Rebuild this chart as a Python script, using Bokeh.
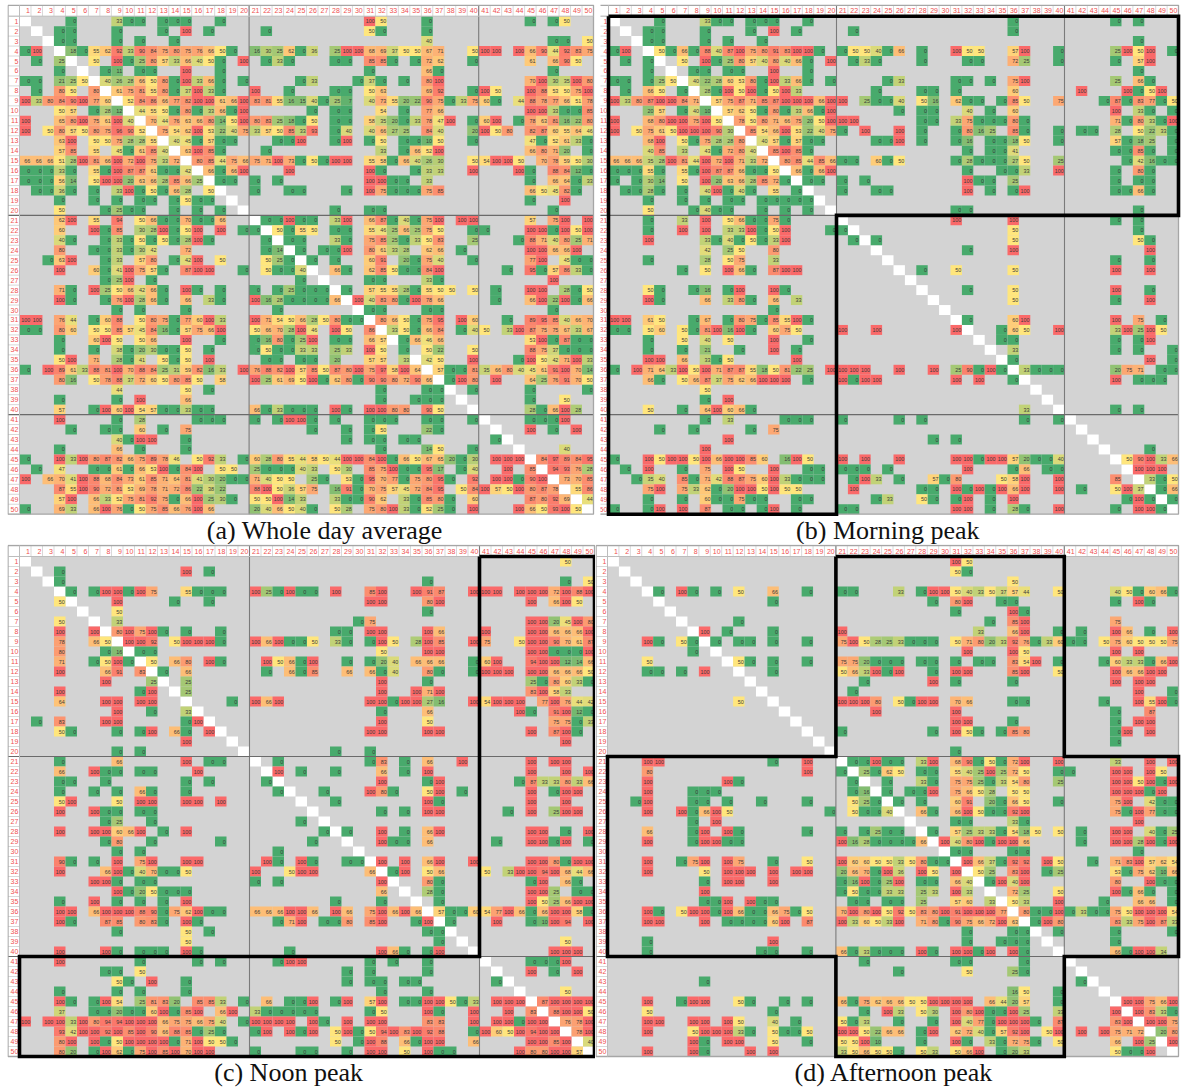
from bokeh.plotting import figure
from bokeh.layouts import column, row
from bokeh.models import Range1d, ColumnDataSource
from bokeh.core.properties import value
from bokeh.embed import file_html
from bokeh.resources import INLINE

tick_labels = [str(i) for i in range(1, 51)]
captions = ["(a) Whole day average", "(b) Morning peak", "(c) Noon peak", "(d) Afternoon peak"]

whole_day = [
{5:0,9:33,10:0,11:0,13:0,14:0,15:0,18:0,31:100,32:50,36:0,45:0,47:0,48:50},
{4:0,5:0,9:0,13:0,15:100,17:0,22:0,31:50,32:0,36:0},
{4:0,5:0,9:0,11:0,14:0,36:40,47:0,48:0,50:50},
{1:0,2:100,5:18,6:0,7:55,8:62,9:92,10:33,11:90,12:84,13:75,14:80,15:75,16:76,17:66,18:50,19:0,21:16,22:30,23:25,24:62,25:0,26:36,28:25,29:100,30:100,31:68,32:69,33:37,34:50,35:50,36:67,37:71,40:50,41:100,42:100,44:100,45:66,46:90,47:44,48:92,49:83,50:75},
{2:0,4:25,7:50,9:100,10:0,11:25,12:80,13:57,14:33,15:66,16:40,17:50,18:0,20:100,22:0,23:33,24:0,28:0,29:0,31:85,32:85,33:0,35:0,36:72,37:62,40:0,45:61,47:66,48:90,49:50},
{4:0,8:0,9:11,11:0,12:0,15:100,18:0,31:0,36:66,37:0,47:0},
{1:0,2:0,4:21,5:25,6:50,8:40,9:26,10:28,11:66,12:50,13:80,14:0,15:100,16:33,17:66,18:0,20:0,25:0,26:33,30:0,31:37,32:0,34:0,36:80,37:100,45:70,46:100,47:30,48:35,49:100,50:80},
{2:0,4:80,5:50,7:80,9:61,10:75,11:81,12:55,13:80,14:0,15:37,16:100,17:33,18:0,21:100,24:0,28:0,29:0,31:50,32:63,36:69,37:92,40:0,41:100,42:50,45:100,46:88,47:53,48:50,49:75,50:100},
{1:100,2:33,3:80,4:84,5:90,6:100,7:77,8:60,10:52,11:84,12:86,13:66,14:77,15:82,16:100,17:100,18:61,19:66,20:100,21:83,22:81,23:55,24:16,25:15,26:40,27:0,28:25,29:7,31:40,32:73,33:55,34:20,35:22,36:90,37:75,38:0,39:33,40:75,41:60,42:0,44:44,45:88,46:78,47:77,48:66,49:51,50:78},
{4:50,5:57,7:0,8:28,9:12,11:44,12:55,13:50,14:0,15:80,16:0,17:33,18:66,19:0,20:100,26:0,28:0,29:0,32:54,34:0,36:77,37:66,45:100,46:100,47:33,48:0,49:0,50:85},
{1:100,4:65,5:80,6:100,7:75,8:61,9:100,10:40,12:70,13:44,14:76,15:63,16:66,17:80,18:14,19:50,20:100,21:80,22:83,23:25,24:18,25:0,26:50,28:0,29:0,31:58,32:35,33:20,34:0,35:33,36:78,37:47,38:100,40:0,41:60,42:100,44:0,45:78,46:63,47:81,48:16,49:22,50:80},
{1:100,3:50,4:80,5:57,6:50,7:80,8:75,9:96,10:90,11:52,13:75,14:54,15:62,16:100,17:53,18:22,19:40,20:75,21:33,22:57,23:50,24:85,25:33,26:93,28:0,29:40,31:40,32:66,33:27,34:25,36:84,37:40,40:20,41:100,42:50,43:80,45:82,46:87,47:60,48:55,49:64,50:46},
{4:63,5:100,7:50,8:50,9:75,10:28,11:28,12:55,14:40,15:45,16:0,17:57,18:0,19:0,23:0,24:0,25:100,28:0,29:100,31:0,32:50,34:0,35:0,36:10,37:50,40:0,45:47,46:0,47:52,48:61,49:33,50:0},
{4:57,5:85,7:55,9:45,10:0,11:61,12:85,13:40,15:63,16:100,17:85,18:0,22:0,32:33,34:0,35:66,36:52,37:100,45:66,46:80,47:71,48:20,50:0},
{1:66,2:66,3:66,4:51,5:28,6:100,7:81,8:66,9:100,10:72,11:100,12:75,13:33,14:72,16:80,17:85,18:44,19:75,20:66,21:75,22:71,23:100,24:73,25:0,26:50,27:0,28:100,29:100,31:55,32:58,33:0,34:66,35:40,36:26,37:30,40:50,41:54,42:100,43:100,44:50,46:70,47:78,48:59,49:50,50:30},
{1:0,2:0,3:0,4:33,5:0,7:55,8:0,9:100,10:87,11:87,12:61,13:0,14:0,15:42,17:66,18:0,19:66,20:100,24:100,31:100,32:0,35:0,36:33,37:33,40:100,44:100,45:0,47:88,48:84,49:12,50:0},
{1:0,2:0,3:0,4:56,5:14,7:50,8:100,9:100,10:20,11:63,12:66,13:28,14:85,15:66,16:25,18:0,19:0,21:0,23:0,31:100,32:100,33:0,34:0,36:33,45:0,47:66,48:64,49:0,50:33},
{2:0,3:0,4:36,5:0,7:0,9:33,10:100,11:0,12:50,13:0,14:66,15:28,17:50,21:0,24:0,25:0,29:0,31:100,32:75,33:0,34:0,35:0,36:75,37:85,45:66,46:50,47:45,48:82,49:0},
{4:0,7:0,9:0,11:0,12:0,14:0,15:50,16:0,17:0,45:0,48:100},
{4:50,8:0,9:25,10:0,11:0,14:0,16:0,18:0,28:0,31:0,32:0,47:0},
{4:62,5:100,7:55,9:94,11:50,12:66,13:0,14:0,15:70,16:0,17:0,18:66,22:0,23:0,24:100,25:0,26:0,28:33,29:100,31:66,32:87,33:0,34:40,35:0,36:75,37:100,39:100,40:100,45:57,47:75,48:100,50:100},
{4:60,7:100,8:0,9:85,11:30,12:28,13:100,14:0,15:50,16:100,18:100,20:0,21:0,23:50,24:0,25:55,26:50,28:0,29:0,31:55,32:46,33:25,34:66,35:25,36:75,37:50,40:0,41:0,45:100,46:100,47:0,48:100,49:50,50:100},
{4:40,5:0,8:0,9:33,10:0,11:50,12:0,13:50,14:0,15:28,16:100,17:0,22:0,24:0,25:0,28:33,29:0,31:75,32:85,33:25,34:0,35:33,36:50,37:83,40:25,44:0,45:88,46:71,47:40,48:80,49:25,50:71},
{4:80,7:0,8:0,9:33,10:0,11:30,12:42,15:72,22:0,23:14,25:0,27:0,28:0,29:100,31:80,32:61,33:33,34:28,36:62,37:66,39:0,45:100,46:100,47:66,48:66,49:100},
{3:0,4:63,5:100,8:0,9:33,11:57,12:80,14:0,15:42,16:100,18:50,22:50,23:25,24:0,26:0,28:0,31:60,32:91,34:20,35:0,36:75,37:40,40:0,45:77,46:100,48:45,49:0,50:0},
{4:100,7:60,8:0,9:41,10:100,11:75,12:57,13:0,15:87,16:100,17:100,20:0,22:50,23:0,24:0,25:40,28:66,29:0,31:62,32:85,33:50,34:0,35:0,36:84,37:100,43:0,45:95,46:0,47:57,48:86,49:33,50:0},
{8:0,9:25,10:100,12:0,25:0,31:0,32:0,36:33,37:0,47:100},
{4:71,5:0,7:100,8:25,9:50,10:66,11:42,12:66,13:0,15:100,16:0,18:0,21:0,23:0,24:25,25:0,26:0,27:0,29:0,31:57,32:55,33:55,34:28,35:0,36:55,37:50,38:50,40:50,42:0,45:100,46:100,48:28,49:0,50:50},
{4:100,5:0,8:0,9:76,10:100,11:28,12:66,13:0,15:66,17:33,18:0,21:100,22:16,23:28,24:0,25:0,26:0,27:0,28:66,30:100,31:40,32:83,33:80,34:0,35:100,36:78,37:66,42:0,45:66,46:100,47:22,48:100,49:0,50:66},
{9:0,11:0,15:0,23:0,31:0,32:0,36:0,37:0,47:0},
{1:100,2:100,4:76,5:44,7:0,8:60,9:88,11:50,12:80,13:75,14:0,15:77,16:60,17:100,18:33,21:100,22:71,23:54,24:50,25:66,26:28,27:50,28:80,29:0,30:0,32:80,33:66,34:50,35:0,36:75,37:95,39:100,40:60,43:0,45:89,46:95,47:85,48:40,49:66,50:70},
{1:0,2:0,4:80,5:60,7:50,8:50,9:85,10:57,11:45,12:84,13:16,14:0,15:57,16:75,17:66,18:100,21:50,22:66,23:70,24:28,25:100,26:46,28:100,29:50,31:86,33:33,34:50,35:0,36:66,37:84,39:0,40:40,41:50,43:33,44:100,45:87,46:75,47:75,48:67,49:33,50:67},
{4:0,7:60,8:100,9:50,11:50,12:66,15:100,18:0,21:0,22:16,23:80,24:0,25:25,26:100,28:0,29:0,31:66,32:57,34:0,35:66,36:46,37:66,45:53,46:100,47:0,48:87,49:0,50:0},
{4:0,7:0,9:38,10:0,11:20,12:30,13:0,14:0,15:50,17:0,21:0,22:50,23:0,24:0,25:33,26:33,28:25,29:33,31:100,32:50,34:0,36:50,37:22,40:50,45:88,46:75,47:37,48:0,49:0,50:0},
{4:50,5:100,7:71,9:28,10:0,11:41,13:50,14:0,15:50,17:100,22:0,23:0,25:0,26:0,28:20,31:57,32:57,34:33,36:42,37:50,40:100,44:0,45:100,46:50,47:42,48:71,49:100,50:33},
{1:0,3:100,4:89,5:61,6:33,7:88,8:81,9:100,10:70,11:88,12:84,13:25,14:31,15:59,16:82,17:16,18:33,20:100,21:76,22:88,23:82,24:100,25:57,26:85,27:50,28:87,29:80,30:100,31:75,32:97,33:58,34:100,35:64,37:57,38:0,39:0,40:81,41:35,42:66,43:80,44:40,45:45,46:61,47:91,48:100,49:70,50:14},
{4:80,5:16,7:50,8:78,9:88,10:37,11:72,12:60,13:50,14:80,15:85,16:50,18:58,21:100,22:25,23:61,24:69,25:50,26:100,27:0,28:62,29:80,30:0,31:90,32:90,33:80,34:72,35:90,36:66,38:0,39:100,40:80,42:100,45:64,46:25,47:76,48:91,49:70,50:50},
{9:44,15:50,17:0,32:0,36:0,37:0,40:0,45:0,50:0},
{4:0,9:0,11:100,15:66,32:0,35:0,36:0,37:0,45:0,48:50},
{4:57,7:0,8:100,9:60,10:100,11:54,12:57,13:0,14:0,15:33,16:0,17:0,21:66,22:0,23:33,24:0,25:0,26:0,28:100,29:0,31:100,32:100,33:80,34:80,36:90,37:50,45:28,46:0,47:66,48:100,49:28},
{4:100,9:0,11:28,16:0,17:0,18:0,21:0,23:0,24:100,25:100,26:0,28:0,31:0,32:0,33:0,36:0,37:0,40:0,45:0,46:0,47:0,48:100},
{5:0,8:0,9:0,11:60,13:0,15:75,26:0,29:0,31:0,32:50,36:22,37:0,45:100,47:0,49:100},
{9:40,10:0,11:100,12:100,15:0,29:0,31:0,32:0,34:0,35:0,42:0},
{4:0,9:66,11:0,15:0,32:0,36:14,37:50,40:0,48:40},
{1:0,4:100,5:33,6:100,7:80,8:87,9:82,10:66,11:75,12:89,13:78,14:46,16:50,17:92,18:33,20:0,21:60,22:28,23:80,24:55,25:44,26:58,27:50,28:44,29:100,30:100,31:84,32:100,33:0,34:66,35:50,36:67,37:65,38:20,39:0,40:30,42:100,43:100,44:100,46:84,47:97,48:89,49:84,50:95},
{2:0,4:47,7:0,8:0,9:61,10:0,11:66,12:53,13:100,14:0,15:84,16:100,18:50,19:50,21:25,22:0,23:0,24:0,25:40,26:33,28:50,29:30,31:85,32:75,33:100,34:0,35:0,36:95,37:17,39:0,40:40,43:100,45:85,47:94,48:93,49:76,50:28},
{1:100,3:66,4:70,5:41,6:100,7:88,8:68,9:84,10:73,11:61,12:85,13:71,14:64,15:81,16:41,17:30,18:20,19:0,20:0,21:71,22:40,23:50,24:50,26:25,27:0,29:53,30:0,31:95,32:70,33:77,34:0,35:75,36:80,37:95,38:0,40:92,42:100,43:100,44:0,45:90,46:100,48:73,49:70,50:85},
{4:87,5:55,6:100,7:90,8:72,9:81,10:53,11:69,12:78,13:71,14:72,15:86,16:22,17:38,18:22,21:88,22:100,23:50,24:36,25:57,26:75,28:16,29:91,30:0,31:70,32:75,33:57,34:45,35:72,36:84,37:95,39:50,40:84,41:100,42:57,43:50,44:100,45:80,46:87,47:78,49:55,50:86},
{4:57,5:100,7:66,8:33,9:52,10:75,11:81,12:92,13:75,14:0,15:66,16:100,17:25,18:30,19:0,21:50,22:50,23:100,24:14,25:33,28:33,29:0,30:0,31:90,32:62,34:33,35:0,36:85,37:80,38:0,40:60,45:87,46:80,47:92,48:69,50:44},
{1:0,4:69,5:33,7:66,8:100,9:76,10:0,11:50,12:75,13:85,14:66,15:76,16:100,17:66,21:20,22:40,23:66,24:50,25:40,26:0,28:50,29:28,31:75,32:80,33:100,34:33,35:0,36:52,37:25,38:0,40:100,44:100,45:66,46:50,47:93,48:100,49:50},
]

morning = [
{5:0,9:33,10:0,11:0,13:0,14:0,15:0,18:0,36:0,45:0,47:0},
{4:0,5:0,9:0,13:0,15:100,17:0,22:0,36:0},
{4:0,5:0,9:0,11:0,14:0,47:0},
{1:0,2:100,5:50,6:0,7:66,8:0,9:88,10:40,11:87,12:100,13:75,14:80,15:91,16:83,17:100,18:100,19:0,21:0,22:50,23:50,24:40,25:0,26:66,28:0,31:100,32:50,33:50,36:57,37:100,40:0,45:25,46:100,47:50,48:100,50:0},
{2:0,4:0,7:50,9:100,10:0,11:25,12:80,13:57,14:40,15:80,16:40,17:66,18:0,20:100,22:0,23:33,24:0,28:0,32:0,33:0,36:72,37:25,40:0,45:0,47:57,48:100},
{4:0,8:0,9:0,11:0,12:0,15:100,18:0,47:0},
{1:0,2:0,4:0,5:25,6:50,8:40,9:22,10:28,11:60,12:53,13:80,14:0,15:100,16:33,17:66,18:0,20:0,25:0,26:33,31:0,32:0,34:0,36:75,37:100,45:25,47:66,48:0},
{2:0,4:66,5:50,7:0,9:28,10:0,11:100,12:50,13:100,14:0,15:50,16:100,17:33,24:0,28:0,29:0,31:0,36:60,42:100,46:100,47:0,48:50,49:100},
{1:100,2:33,3:80,4:87,5:100,6:100,7:84,8:71,10:57,11:75,12:87,13:71,14:85,15:87,16:100,17:100,18:100,19:66,20:100,21:100,23:25,24:0,25:0,26:40,28:50,29:16,31:62,32:0,33:0,35:0,36:85,37:50,40:75,44:0,45:87,46:0,47:83,48:77,49:0,50:50},
{4:20,5:57,7:0,8:40,9:10,11:57,12:62,13:50,14:0,15:80,16:0,17:33,18:66,19:0,20:100,26:0,28:0,29:0,32:40,34:0,36:60,45:100,47:33,48:0,50:0},
{1:100,4:68,5:80,6:100,7:100,8:75,9:100,10:50,12:78,13:50,14:80,15:71,16:66,17:75,18:20,19:50,20:100,21:100,22:100,28:0,29:0,31:33,32:75,33:0,34:0,35:0,36:80,37:0,45:71,46:0,47:80,48:33,49:0,50:100},
{1:100,3:50,4:75,5:61,6:50,7:100,8:100,9:100,10:90,11:30,13:85,14:54,15:66,16:100,17:53,18:22,19:40,20:75,21:0,23:100,26:100,28:0,31:0,32:80,33:16,34:25,36:85,37:0,40:0,42:0,43:0,45:28,47:50,48:22,49:33,50:0},
{4:68,5:100,7:50,8:0,9:75,10:28,11:28,12:80,14:40,15:57,16:0,17:57,18:0,19:0,24:0,25:0,26:100,28:0,31:0,32:16,34:0,35:0,36:18,37:50,40:0,45:57,46:0,47:18,48:25,50:0},
{4:40,5:85,7:33,9:43,10:0,11:72,12:80,13:40,15:85,16:100,17:85,18:0,32:0,34:0,35:0,36:41,45:0,46:0,47:85,48:0,50:0},
{1:66,2:66,3:66,4:35,5:28,6:100,7:81,8:44,9:100,10:72,11:100,12:71,13:33,14:72,16:80,17:85,18:44,19:85,20:66,21:0,22:0,24:60,25:0,26:50,31:0,32:28,33:0,34:0,35:0,36:27,37:50,40:25,46:0,47:42,48:16,49:0,50:0},
{1:0,2:0,3:0,4:55,5:0,7:55,8:0,9:100,10:87,11:87,12:66,13:0,14:0,15:50,17:66,18:0,19:66,20:100,32:0,35:0,36:0,37:33,40:100,45:0,47:80,48:0},
{1:0,3:0,4:30,5:14,7:50,9:100,10:20,11:63,12:66,13:28,14:85,15:72,16:0,18:0,19:0,21:0,23:0,32:100,33:0,34:0,36:25,45:0,47:0,48:0},
{2:0,3:0,4:28,5:0,7:0,9:40,10:100,11:0,12:40,13:0,15:55,17:0,21:0,24:0,25:0,32:100,34:0,36:0,37:100,45:0,46:0,47:66,48:0},
{4:0,7:0,9:0,11:0,12:0,14:0,15:0,16:0,17:0,18:0},
{4:50,8:0,9:40,10:0,11:0,14:0,16:0,18:0,31:0,32:0,47:0},
{4:0,7:33,9:100,11:50,12:66,13:0,14:0,15:75,16:0,31:100,36:100,45:0,47:0},
{4:0,7:100,9:100,11:33,12:33,13:100,14:0,15:50,16:100,20:0,21:0,36:50,47:0},
{4:100,9:33,10:0,11:40,12:0,13:50,14:0,15:33,16:100,22:0,24:0,36:50,47:50,48:0},
{9:42,11:25,12:50,15:80,32:0,36:100,48:100},
{4:0,9:28,11:50,12:75,15:33,45:0,48:0},
{7:0,9:50,11:100,12:66,13:0,15:87,16:100,17:100,28:0,31:50,36:50,45:100,48:100},
{},
{4:50,5:0,8:0,9:16,11:0,12:100,15:100,16:0,32:0,36:50,45:100,48:0},
{4:100,5:0,9:66,11:33,12:80,13:0,15:66,17:33,36:50,45:0,48:100},
{15:0},
{1:100,2:100,4:61,5:50,8:0,9:67,11:0,12:80,13:75,14:0,15:85,16:55,17:100,18:0,32:0,36:60,37:100,45:100,47:75,49:0},
{1:0,2:0,4:50,5:60,7:50,8:0,9:81,10:100,11:16,12:100,13:0,15:60,16:75,17:50,21:100,24:100,31:100,35:0,36:60,37:50,40:100,45:33,46:100,47:25,48:100,49:50},
{4:0,7:50,9:40,11:50,15:100,18:0,35:0,36:0,45:0,47:0,48:100},
{4:0,7:0,9:21,12:0,15:100,17:0,36:33,45:0,47:0,50:0},
{4:100,5:100,7:66,9:33,10:0,11:50,17:100,36:0,48:100,50:0},
{1:0,3:100,4:71,5:64,6:33,7:100,8:50,9:100,10:71,11:87,12:87,13:55,14:18,15:50,16:81,17:22,18:25,20:100,21:100,22:100,23:100,26:100,29:100,31:25,32:90,33:0,34:100,35:0,37:33,38:0,39:0,40:0,45:20,46:75,47:71,49:0,50:0},
{4:66,5:0,7:50,8:66,9:87,10:37,11:75,12:62,13:66,14:100,15:100,16:100,18:0,21:100,22:0,23:100,24:100,31:100,33:100,36:0,45:100,47:0,48:0,49:0},
{9:50},
{9:0,11:100},
{4:50,7:0,9:64,10:100,11:60,12:66,13:0,37:33,45:0,47:0},
{9:0,11:33,16:0,17:0,18:0,21:0,26:0,28:0,37:0,40:0},
{5:0,8:0,13:0,15:75},
{11:100,29:0,31:0},
{9:100,48:0},
{1:0,4:100,5:50,6:100,7:100,8:50,9:100,10:66,11:100,12:100,13:85,14:60,16:16,17:100,18:50,21:100,23:100,26:100,31:100,32:100,33:0,34:100,35:100,36:57,37:20,38:0,39:0,40:40,46:50,47:90,48:100,49:33,50:66},
{2:0,4:100,7:0,9:75,11:100,12:50,15:100,18:0,19:0,21:0,22:0,23:0,25:0,32:100,36:0,37:66,39:0,40:0,47:100,48:100,49:100},
{3:0,4:35,5:40,7:85,8:0,9:71,10:42,11:88,12:87,13:75,14:60,15:100,16:33,17:0,18:0,19:0,22:0,23:100,24:33,26:0,29:57,30:0,31:80,35:50,36:58,37:100,40:100,45:85,48:33,49:0,50:50},
{4:75,5:100,7:75,8:33,9:62,10:0,11:20,12:100,13:100,14:50,15:100,16:50,17:50,22:100,28:0,29:0,31:100,32:0,33:100,34:0,35:100,36:66,37:100,40:100,42:0,45:50,46:100,47:37,49:0,50:66},
{4:0,7:0,9:60,10:0,11:0,12:75,13:0,14:0,17:0,18:0,24:0,25:33,28:50,29:0,31:0,32:100,34:0,36:100,46:0,47:100,48:0,50:0},
{1:0,4:0,5:100,7:100,9:87,11:0,12:0,14:0,15:100,17:0,21:0,22:0,31:100,32:100,34:0,36:28,37:0,40:100,45:0,47:100,48:100,49:0},
]

noon = [
{48:50},
{4:0,15:100,17:0},
{4:0,36:0,48:0,50:50},
{5:0,7:0,8:100,9:100,10:0,11:100,12:75,15:55,16:0,17:0,18:0,21:100,22:25,23:0,24:100,25:0,26:0,28:100,31:85,32:100,35:100,36:91,37:87,40:100,41:100,42:100,44:100,45:100,46:100,47:72,48:100,49:88,50:100},
{4:50,9:100,14:0,17:0,31:100,32:100,36:80,37:100,45:100,47:66,48:100,49:50},
{9:50,36:0},
{4:50,9:33,30:0,31:75,45:100,46:100,47:20,48:45,49:100,50:80},
{4:100,7:100,9:80,10:100,11:75,12:100,13:0,15:0,18:0,28:0,29:0,31:100,32:100,36:100,37:66,41:100,45:100,46:100,47:66,48:66,49:66,50:100},
{4:78,7:66,8:50,10:100,11:100,12:92,14:50,15:100,16:100,17:100,18:0,21:100,22:66,23:100,24:0,25:0,26:50,28:33,29:0,31:0,32:100,33:50,35:28,36:100,37:85,40:100,41:75,44:50,45:100,46:100,47:90,48:70,49:61,50:87},
{4:80,8:0,9:16,11:0,12:0,32:50,36:100,37:100,45:100,46:100,47:0,48:0,49:0,50:100},
{4:71,7:0,8:50,9:100,10:0,12:50,14:66,15:80,17:100,18:0,22:100,23:50,24:66,25:0,26:100,29:0,31:0,32:20,33:40,35:66,36:66,37:66,40:0,41:60,42:100,45:94,46:100,47:100,48:12,49:14,50:66},
{4:100,8:66,9:91,11:83,13:0,15:66,22:0,24:66,25:0,26:85,29:66,31:66,32:0,33:40,36:80,37:0,40:0,41:100,42:100,43:100,45:100,46:100,47:66,48:66,49:66,50:50},
{8:100,12:25,15:25,32:100,36:0,45:25,46:0,47:80,48:60,49:33,50:0},
{4:100,11:0,12:100,15:25,32:100,35:100,36:71,37:100,45:83,46:100,47:58,48:33},
{4:64,8:100,9:100,11:100,12:100,19:0,21:100,22:66,23:100,31:100,32:100,33:0,34:100,35:100,36:27,37:16,40:100,41:54,42:100,43:100,44:100,46:77,47:100,48:76,49:44,50:42},
{9:100,12:0,15:33,32:0,36:66,44:100,45:0,47:91,48:100,49:12,50:0},
{2:0,4:83,8:100,9:100,15:0,16:100,32:100,36:50,47:75,48:75,49:0,50:33},
{4:50,5:0,9:0,11:0,12:100,14:66,15:0,17:100,31:100,32:100,36:100,37:100,45:100,47:87,48:100,49:0},
{15:100,48:100},
{9:0,11:0,28:0,31:0},
{4:0,9:66,15:100,17:0,18:0,23:0,31:0,32:83,34:0,36:66,39:100,45:100,47:100,48:100},
{4:66,7:100,8:0,9:0,11:0,12:0,16:100,23:100,25:0,28:0,32:66,34:0,36:100,45:100,48:100,50:100},
{4:0,5:0,8:0,15:0,17:0,22:0,32:100,36:0,37:100,44:0,45:87,46:33,47:33,48:80,49:33,50:66},
{4:0,7:0,9:0,11:66,12:0,15:0,23:0,27:0,31:100,32:80,33:0,36:50,37:100,39:0,45:100,47:0,48:100,49:100},
{4:50,5:100,9:50,11:100,12:100,15:100,16:100,18:100,28:0,36:100,37:0,45:100,48:100},
{4:100,7:100,8:0,9:0,11:0,12:0,32:0,34:0,36:100,37:100,43:0,45:100,47:25,48:100,49:100},
{8:0,9:25,12:0,25:0},
{4:100,7:100,8:100,9:60,10:66,11:100,13:0,15:100,27:0,29:0,32:100,34:0,36:66,37:100,45:100,46:100,48:0,50:100},
{8:0,9:80,12:0,18:0,26:0,32:100,33:0,34:0,36:66,42:0,45:100,46:100,47:0,48:100,50:0},
{9:0,11:0,23:0},
{4:90,5:0,7:0,9:100,11:75,12:100,15:100,16:100,22:100,23:0,25:100,26:0,29:0,30:0,32:100,34:100,36:66,37:100,40:100,45:100,46:100,47:80,48:0,49:100,50:100},
{4:100,8:66,9:100,10:0,11:40,12:70,13:0,14:0,15:50,21:100,24:50,25:100,26:100,31:66,33:0,34:100,36:50,37:66,41:50,43:33,44:100,45:100,46:94,47:100,48:68,49:44,50:66},
{7:100,8:100,9:0,11:0,12:0,21:0,23:0,32:100,36:80,37:0,45:0,46:100,48:66,49:0},
{9:100,10:0,11:20,12:50,13:0,14:0,15:0,32:66,36:28,37:0,45:100,46:100,47:25,49:0,50:0},
{4:0,7:100,9:0,11:0,13:0,15:100,28:0,32:0,37:0,45:100,46:50,47:25,48:66,49:100,50:100},
{4:100,5:100,7:66,8:100,9:100,10:100,11:88,12:90,13:0,14:75,15:62,16:100,17:0,18:0,21:66,22:66,23:66,24:100,25:100,26:66,28:100,29:66,31:75,32:100,33:66,34:100,35:66,37:57,38:0,39:0,40:60,41:54,42:77,43:100,44:66,45:0,46:66,47:100,48:100,49:58,50:0},
{4:100,5:0,8:87,9:85,11:80,12:83,13:0,15:100,16:0,23:0,24:71,25:100,27:0,28:0,29:80,31:85,32:100,35:0,36:100,38:0,42:100,45:0,46:10,47:100,48:94,50:100},
{9:0,15:50,17:0,36:0,37:0},
{15:50,37:0,48:50},
{4:100,8:100,9:0,11:0,12:0,13:0,15:100,16:0,24:0,32:100,33:66,34:0,36:0,37:100,47:100,48:100,49:100},
{4:100,11:0,16:0,18:0,23:0,24:100,25:100,31:0,33:0,36:0,45:0,46:0,47:0,48:100},
{8:0,9:0,11:50,29:0,31:0,36:0,45:100,47:0,49:100},
{9:50,10:0,12:100,15:0,29:0,31:0,32:0,34:0,35:0,42:0},
{4:0,9:0,11:0,15:0,32:0,36:0,48:50},
{4:100,5:0,7:0,8:100,9:54,11:25,12:81,13:83,14:20,16:85,17:85,18:33,20:0,22:66,24:0,25:0,26:100,28:0,29:100,31:57,32:100,34:0,35:0,36:100,37:100,38:50,39:0,40:33,42:100,43:100,44:100,46:87,47:100,48:100,49:100,50:100},
{4:37,7:0,8:0,9:20,10:0,11:0,12:60,13:100,14:0,15:85,16:100,18:66,19:100,21:33,22:0,23:0,24:0,25:0,26:0,31:0,32:50,36:100,37:0,40:100,43:100,45:83,47:88,48:100,49:100,50:50},
{1:100,3:100,4:100,5:33,6:100,7:80,8:94,9:94,10:100,11:100,12:100,13:66,14:75,15:75,16:66,17:75,18:40,20:0,21:100,22:100,23:100,24:100,26:100,27:0,29:100,31:100,32:100,36:83,37:83,40:100,42:100,43:100,44:0,45:100,46:100,48:76,49:78,50:100},
{4:93,5:42,6:100,7:100,8:92,9:100,10:85,11:100,12:90,13:66,14:88,15:85,16:0,17:25,18:0,21:0,22:100,24:100,25:0,26:100,28:50,29:100,30:0,31:50,32:94,33:100,34:83,35:100,36:92,37:88,40:0,41:100,42:60,43:50,44:100,45:94,46:100,47:100,49:78,50:100},
{4:80,5:100,7:100,8:0,9:50,10:100,11:100,12:100,13:100,14:0,15:71,16:100,17:50,18:50,19:0,28:50,30:0,31:100,32:88,34:66,35:0,36:100,37:100,40:66,45:100,46:100,47:85,48:100,50:40},
{4:80,5:20,7:0,8:100,9:62,10:0,11:75,12:100,13:85,14:100,15:70,16:100,17:100,21:0,25:0,26:0,29:0,31:100,32:100,34:50,36:100,37:0,38:0,44:100,45:80,46:80,47:100,48:100,49:57},
]

afternoon = [
{31:100,32:50},
{31:50,32:0},
{36:50},
{5:0,7:100,8:0,10:0,12:50,15:66,18:0,21:0,22:0,26:33,28:0,29:100,30:100,31:50,32:40,33:33,34:50,35:37,36:57,37:44,40:50,45:40,46:50,47:0,48:60,49:66,50:0},
{15:0,29:0,31:80,32:100,35:0,36:0,45:0,47:100,48:0},
{31:0,36:100,37:0},
{12:0,34:0,36:85,37:100,45:75},
{9:100,11:0,15:0,21:100,33:33,36:66,37:100,40:0,42:0,45:100,46:66,48:0,50:100},
{4:100,5:0,7:50,8:0,10:0,12:0,13:0,15:0,18:0,21:75,22:100,23:50,24:28,25:25,26:33,27:0,28:0,29:0,31:50,32:71,33:80,34:20,35:33,36:92,37:76,38:0,39:33,40:60,41:0,42:0,44:50,45:75,46:60,47:50,48:50,49:50,50:75},
{8:0,32:100,36:100,37:50,45:100,47:100},
{4:50,12:50,13:0,15:0,18:0,21:75,22:75,23:20,24:0,25:0,26:0,28:0,29:0,31:0,33:0,34:0,36:83,37:54,38:100,40:0,44:0,45:60,46:33,47:33,48:0,49:66,50:100},
{4:0,5:0,7:0,9:100,15:0,21:50,22:66,23:33,24:100,25:0,26:100,29:0,31:100,32:100,36:85,37:100,40:50,45:100,46:66,47:66,48:100,49:100},
{23:0,29:100,31:0,36:0,45:100,47:100,48:100},
{22:0,47:100,50:0},
{12:50,21:100,22:100,23:100,24:80,26:50,27:0,28:100,29:100,31:70,32:66,36:0,37:0,44:0,47:100,48:55,49:100,50:0},
{24:100,31:100,45:0,48:87},
{31:100,32:100,36:0,45:0,47:100,48:100},
{21:0,29:0,31:100,32:50,33:0,35:0,36:85,37:80,45:0,46:100,48:100},
{45:0},
{31:0},
{4:100,5:100,15:0,18:100,22:0,23:0,24:100,25:0,26:0,28:33,29:100,31:68,32:90,33:0,34:50,35:0,36:72,37:100,40:100,45:33,48:100,50:100},
{4:80,18:100,21:0,23:25,24:0,25:62,26:50,28:0,29:0,31:55,32:40,33:25,34:100,35:25,36:72,37:50,40:0,41:0,45:100,46:100,48:100,49:50},
{4:100,11:100,12:0,22:0,25:0,28:33,29:0,31:75,32:75,33:25,34:0,35:33,36:54,37:80,40:25,45:100,46:100,47:50,48:100,49:0,50:100},
{4:100,8:0,9:0,10:0,22:0,23:16,25:0,27:0,28:0,29:100,31:75,32:66,33:50,34:28,36:50,37:50,45:100,46:100,47:100,48:0,49:100},
{3:0,4:100,8:0,9:0,11:0,14:0,18:0,22:50,23:25,24:0,26:0,28:0,31:60,32:91,34:20,35:0,36:66,37:50,40:0,45:75,46:100,48:42,49:0,50:0},
{4:100,7:100,8:0,9:66,10:100,11:50,20:0,22:50,23:0,24:0,25:40,28:66,29:0,31:66,32:100,33:50,34:0,35:0,36:92,37:100,45:75,46:0,47:100,48:77,49:0,50:0},
{8:0,10:100,31:0,32:0,36:33,37:0,47:100},
{4:66,8:0,9:100,11:100,12:0,18:0,21:0,23:0,24:25,25:0,26:0,29:0,31:57,32:25,33:33,34:33,35:0,36:54,37:18,38:50,40:50,42:0,45:100,46:100,48:40,49:0,50:25},
{4:100,8:0,9:100,10:100,11:0,12:0,21:100,22:16,23:28,24:0,25:0,26:0,27:0,28:66,30:100,31:40,32:80,33:100,34:0,35:100,36:100,37:66,42:0,45:100,46:100,47:28,48:100,49:0,50:100},
{31:0,32:0,36:0,37:0,47:0},
{4:100,7:0,8:75,9:100,11:100,12:75,15:0,18:50,21:100,22:60,23:60,24:50,25:50,26:33,27:50,28:80,29:0,30:0,32:100,33:66,34:37,35:0,36:92,37:92,39:100,40:50,43:0,45:71,46:83,47:100,48:57,49:62,50:54},
{4:100,9:50,11:100,12:100,13:100,15:100,17:100,18:100,21:20,22:66,23:70,24:0,25:100,26:36,28:100,29:50,31:100,33:50,34:25,36:83,37:100,39:0,40:25,45:53,46:0,47:75,48:62,49:10,50:66},
{9:0,11:100,12:100,15:100,21:0,22:16,23:100,24:0,25:25,26:100,28:0,29:0,31:66,32:40,34:0,35:100,36:40,37:100,45:80,48:100,49:0,50:0},
{9:100,21:0,22:50,23:0,24:0,25:33,26:33,28:25,29:33,31:100,32:33,36:72,37:25,40:50,45:100,46:0,47:66,48:0,50:0},
{9:0,10:0,11:100,13:100,14:0,15:0,22:0,23:0,25:0,26:0,28:25,31:57,32:60,34:33,36:50,37:33,40:100,44:0,47:66,48:66,50:0},
{4:100,5:0,7:50,8:100,9:100,10:0,11:100,12:66,13:0,14:0,15:66,16:75,17:0,18:50,21:70,22:100,23:80,24:100,25:50,26:92,27:50,28:83,29:80,30:100,31:91,32:100,33:100,34:100,35:77,37:80,38:0,39:0,40:100,41:0,42:33,43:0,44:0,45:75,46:50,47:100,48:100,49:100,50:54},
{4:100,5:100,9:100,11:0,12:0,13:0,14:0,15:60,16:100,18:87,21:100,22:33,23:60,24:50,25:33,26:100,28:71,29:80,30:0,31:90,32:75,33:66,34:72,35:100,36:63,38:0,39:100,40:80,45:83,46:33,47:75,48:100,49:87,50:33},
{32:0,36:0,37:0,40:0,45:0,50:0},
{4:0,15:100,32:0,35:0,36:0,37:0,45:0},
{4:0,14:0,15:0,18:0,21:66,22:0,23:33,24:0,25:0,26:0,28:100,29:0,31:100,32:100,33:0,34:100,36:100,37:0,45:66,46:0,47:100,48:100,49:34},
{23:0,31:0,32:0,37:0},
{26:0,32:50,36:25,37:0},
{9:0,42:0},
{36:16,37:50,40:0},
{4:100,7:0,8:100,9:100,12:50,13:0,16:0,18:0,21:66,22:0,23:75,24:62,25:66,26:66,27:50,28:50,29:100,30:100,31:100,32:100,34:66,35:44,36:20,37:57,40:0,46:100,47:100,48:75,49:66,50:100},
{4:50,15:0,23:0,25:100,26:33,28:50,29:30,31:100,32:80,33:100,34:0,35:0,36:100,37:25,40:33,45:100,47:100,48:83,49:33,50:0},
{4:100,5:100,8:100,9:100,11:100,12:50,15:40,17:0,21:50,22:0,23:33,26:0,29:0,31:100,32:40,33:77,34:0,35:100,36:100,37:100,38:0,40:87,45:83,46:100,48:100,49:100,50:75},
{4:100,8:50,9:100,10:100,11:100,12:33,13:0,15:50,16:0,17:0,18:50,21:100,22:100,23:50,24:22,25:66,26:66,28:0,29:100,31:62,32:72,33:40,34:0,35:57,36:92,37:100,39:50,40:100,42:100,44:100,45:75,46:71,47:72,49:20,50:80},
{8:100,9:0,11:100,12:100,15:50,18:0,21:50,22:50,23:100,24:10,28:0,31:100,32:0,34:33,35:0,36:72,37:75,38:0,40:50,45:66,47:100,48:25,50:100},
{4:100,8:100,9:0,13:100,15:100,21:33,22:50,23:66,24:50,25:50,26:0,28:50,29:33,31:50,32:66,33:100,35:0,36:20,37:33,45:50,46:0,47:0,48:100},
]

LOW, MID, HIGH = (72, 170, 108), (255, 230, 125), (250, 105, 105)

def shade(v):
    a, b, t = (LOW, MID, v / 50) if v <= 50 else (MID, HIGH, (v - 50) / 50)
    return "#%02x%02x%02x" % tuple(round(a[i] + (b[i] - a[i]) * t) for i in range(3))

def panel(rows, caption, cap_x, width, height, gx, gy, cw, ch, frame):
    # gx, gy: offset of the grid inside the figure; cw, ch: cell size in pixels
    p = figure(width=width, height=height, toolbar_location=None, output_backend="svg",
               x_range=Range1d(-gx / cw, (width - gx) / cw),
               y_range=Range1d((height - gy) / ch, -gy / ch),
               min_border=0, outline_line_color=None, border_fill_color="white",
               background_fill_color="white")
    p.axis.visible = False
    p.grid.visible = False
    hx = -1.0
    hy = -1.1
    # header cells
    p.segment(x0=[c for c in range(51)], x1=[c for c in range(51)], y0=[hy] * 51, y1=[0] * 51,
              line_color="#d9d9d9", line_width=1)
    p.segment(x0=[hx] * 51, x1=[0] * 51, y0=[c for c in range(51)], y1=[c for c in range(51)],
              line_color="#d9d9d9", line_width=1)
    p.quad(left=[0], right=[50], top=[0], bottom=[50], fill_color="#d3d3d3", line_color=None)
    idx = list(range(1, 51))
    p.rect(x=[i - .5 for i in idx], y=[i - .5 for i in idx], width=1, height=1,
           fill_color="white", line_color=None)
    xs, ys, cols, labs = [], [], [], []
    for r, cells in enumerate(rows, 1):
        for c, v in cells.items():
            xs.append(c); ys.append(r); cols.append(shade(v)); labs.append(str(v))
    src = ColumnDataSource(dict(x=[x - .5 for x in xs], y=[y - .5 for y in ys], c=cols,
                                tx=[x - .06 for x in xs], t=labs))
    p.rect(x="x", y="y", width=1, height=1, source=src, fill_color="c", line_color=None)
    p.text(x="tx", y="y", text="t", source=src, text_align="right", text_baseline="middle",
           text_font=value("Liberation Sans"), text_font_size="5.4px", text_color="#3a3a3a")
    # block separators
    for b in (20, 40):
        p.line([b, b], [hy, 50], line_color="#7a7a7a", line_width=1.1)
        p.line([hx, 50], [b, b], line_color="#6a6a6a", line_width=1.1)
    # outer border
    p.line([hx, 50, 50, hx, hx], [hy, hy, 50, 50, hy], line_color="#a6a6a6", line_width=1.3)
    p.line([hx, 50], [0, 0], line_color="#bdbdbd", line_width=1)
    p.line([0, 0], [hy, 50], line_color="#bdbdbd", line_width=1)
    # tick labels
    p.text(x=[i - .1 for i in idx], y=[hy / 2] * 50, text=tick_labels, text_align="right",
           text_baseline="middle", text_font=value("Liberation Sans"), text_font_size="7px",
           text_color="#f05050")
    p.text(x=[-.1] * 50, y=[i - .5 for i in idx], text=tick_labels, text_align="right",
           text_baseline="middle", text_font=value("Liberation Sans"), text_font_size="7px",
           text_color="#f05050")
    if frame:
        fx, fy = zip(*frame)
        p.line(list(fx), list(fy), line_color="black", line_width=3.6, line_join="miter")
    p.text(x=[cap_x], y=[51.6], text=[caption], text_align="center", text_baseline="middle",
           text_font=value("Liberation Serif"), text_font_size="26px", text_color="#111111")
    return p

frame_b = [(0, 0), (50, 0), (50, 20), (20, 20), (20, 50), (0, 50), (0, 0)]
frame_c = [(40, 0), (50, 0), (50, 50), (0, 50), (0, 40), (40, 40), (40, 0)]
frame_d = [(20, 0), (40, 0), (40, 20), (50, 20), (50, 40), (40, 40), (40, 50), (20, 50),
           (20, 40), (0, 40), (0, 20), (20, 20), (20, 0)]

a = panel(whole_day, captions[0], 26.6, 593, 540, 12, 11.7, 11.48, 9.96, None)
b = panel(morning, captions[1], 24.5, 581, 540, 8, 11.7, 11.4, 9.96, frame_b)
c = panel(noon, captions[2], 23.4, 588, 546, 12, 12, 11.5, 10, frame_c)
d = panel(afternoon, captions[3], 25.1, 586, 546, 12, 12, 11.42, 10, frame_d)

page = column(row(a, b, spacing=0), row(c, d, spacing=0), spacing=0, margin=(4, 0, 0, 7))
open("out.html", "w").write(file_html(page, INLINE))
